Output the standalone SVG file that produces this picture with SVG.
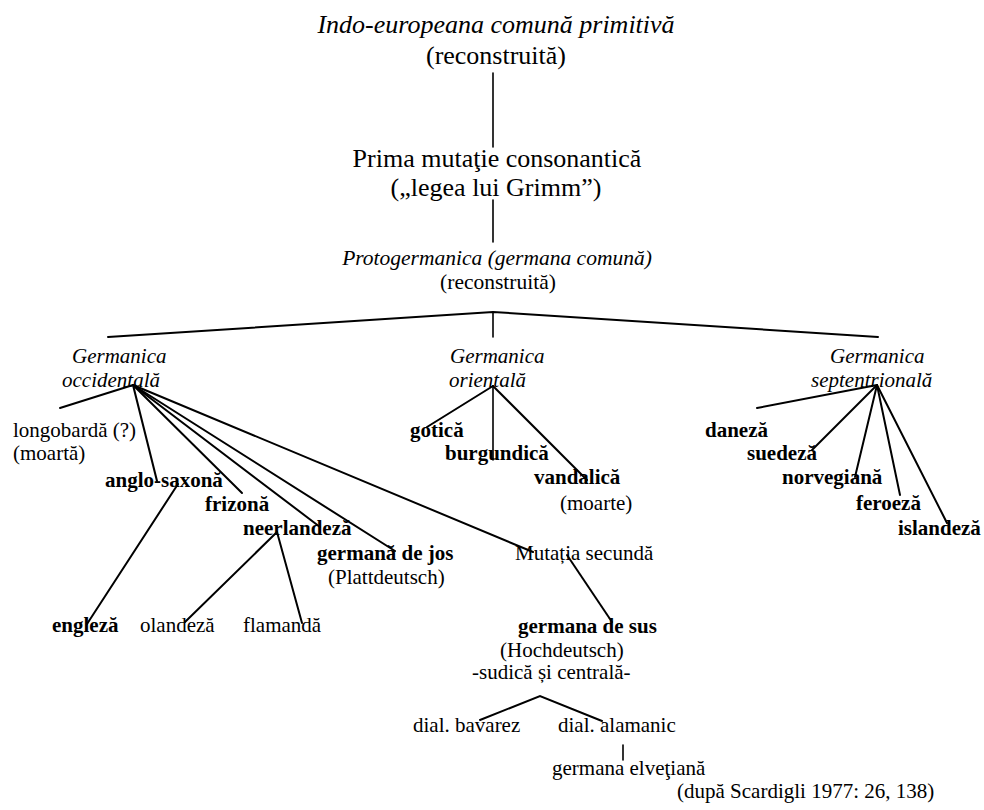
<svg xmlns="http://www.w3.org/2000/svg" width="984" height="810" viewBox="0 0 984 810">
<style>
text{font-family:'Liberation Serif',Tinos,'Times New Roman','DejaVu Serif',serif;fill:#000;font-size:21px}
.big{font-size:26px}
.mid{font-size:21.5px}
.i{font-style:italic}
.b{font-weight:bold}
.c{text-anchor:middle}
.ln line,.ln polyline{stroke:#000;stroke-width:2;fill:none;stroke-linecap:round}
.ln .v{stroke-width:1.6}
</style>
<rect width="984" height="810" fill="#fff"/>
<g id="connectors" class="ln">
<line class="v" x1="493" y1="73" x2="493" y2="147"/>
<line class="v" x1="493" y1="200" x2="493" y2="242"/>
<polyline points="108,337 493,312 878,337"/>
<line class="v" x1="493" y1="312" x2="493" y2="337"/>
<line x1="133" y1="385" x2="60" y2="408"/>
<line x1="133" y1="385" x2="157" y2="481"/>
<line x1="133" y1="385" x2="242" y2="493"/>
<line x1="133" y1="385" x2="320" y2="527"/>
<line x1="133" y1="385" x2="395" y2="551"/>
<line x1="133" y1="385" x2="533" y2="552"/>
<line x1="178" y1="484" x2="87" y2="624"/>
<line x1="277" y1="532" x2="185" y2="622"/>
<line x1="277" y1="532" x2="302" y2="623"/>
<line x1="567" y1="555" x2="612" y2="622"/>
<polyline points="480,720 540,696 602,721"/>
<line class="v" x1="623" y1="745" x2="623" y2="760"/>
<line x1="493" y1="386" x2="427" y2="427"/>
<line class="v" x1="493" y1="386" x2="493" y2="460"/>
<line x1="493" y1="386" x2="587" y2="480"/>
<line x1="877" y1="385" x2="757" y2="408"/>
<line x1="877" y1="385" x2="812" y2="450"/>
<line x1="877" y1="385" x2="855" y2="477"/>
<line x1="877" y1="385" x2="900" y2="495"/>
<line x1="877" y1="385" x2="947" y2="523"/>
</g>
<g id="indoeuropeana"><text class="big i c" x="496" y="33">Indo-europeana comună primitivă</text><text class="big c" x="496" y="64">(reconstruită)</text></g>
<g id="prima-mutatie"><text class="big c" x="497" y="167">Prima mutaţie consonantică</text><text class="big c" x="496" y="196">(„legea lui Grimm”)</text></g>
<g id="protogermanica"><text class="mid i c" x="497" y="265">Protogermanica (germana comună)</text><text class="mid c" x="498" y="289">(reconstruită)</text></g>
<g id="germanica-occidentala"><text class="i" x="72" y="363">Germanica</text><text class="i" x="62" y="387">occidentală</text></g>
<g id="germanica-orientala"><text class="i" x="450" y="363">Germanica</text><text class="i" x="449" y="387">orientală</text></g>
<g id="germanica-septentrionala"><text class="i" x="830" y="363">Germanica</text><text class="i" x="811" y="387">septentrională</text></g>
<g id="longobarda"><text x="13" y="437">longobardă (?)</text><text x="13" y="460">(moartă)</text></g>
<g id="anglo-saxona"><text class="b" x="105" y="487">anglo-saxonă</text></g>
<g id="frizona"><text class="b" x="205" y="511">frizonă</text></g>
<g id="neerlandeza"><text class="b" x="243" y="535">neerlandeză</text></g>
<g id="germana-de-jos"><text class="b" x="317" y="560">germană de jos</text><text x="328" y="584">(Plattdeutsch)</text></g>
<g id="mutatia-secunda"><text x="515" y="560">Mutația secundă</text></g>
<g id="engleza"><text class="b" x="52" y="632">engleză</text></g>
<g id="olandeza"><text x="140" y="632">olandeză</text></g>
<g id="flamanda"><text x="243" y="632">flamandă</text></g>
<g id="germana-de-sus"><text class="b" x="518" y="633">germana de sus</text><text x="500" y="657">(Hochdeutsch)</text><text x="472" y="679">-sudică și centrală-</text></g>
<g id="dial-bavarez"><text x="413" y="732">dial. bavarez</text></g>
<g id="dial-alamanic"><text x="558" y="732">dial. alamanic</text></g>
<g id="germana-elvetiana"><text x="552" y="775">germana elveţiană</text></g>
<g id="sursa"><text x="677" y="798">(după Scardigli 1977: 26, 138)</text></g>
<g id="gotica"><text class="b" x="410" y="437">gotică</text></g>
<g id="burgundica"><text class="b" x="445" y="460">burgundică</text></g>
<g id="vandalica"><text class="b" x="534" y="484">vandalică</text><text x="560" y="510">(moarte)</text></g>
<g id="daneza"><text class="b" x="705" y="437">daneză</text></g>
<g id="suedeza"><text class="b" x="747" y="460">suedeză</text></g>
<g id="norvegiana"><text class="b" x="782" y="484">norvegiană</text></g>
<g id="feroeza"><text class="b" x="856" y="510">feroeză</text></g>
<g id="islandeza"><text class="b" x="898" y="535">islandeză</text></g>
</svg>
